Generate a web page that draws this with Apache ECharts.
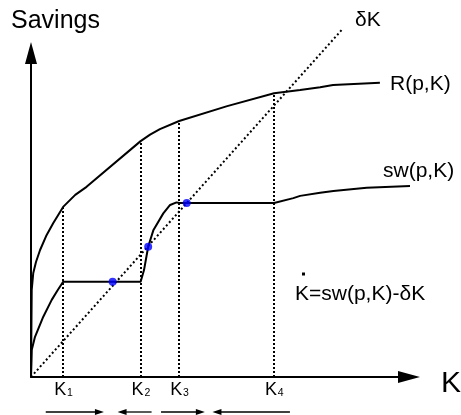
<!DOCTYPE html>
<html><head><meta charset="utf-8">
<script src="https://cdn.jsdelivr.net/npm/echarts@6/dist/echarts.min.js"></script>
<style>html,body{margin:0;padding:0;background:#fff}#c{width:461px;height:415px}</style>
</head><body><div id="c"></div>
<script>
// K equilibrium positions (x-axis) and subscripts
const kValues = [8.5, 29.0, 39.2, 64.3];
const kNames = ['1', '2', '3', '4'];
// R(p,K) curve
const rCurve = [[0,0],[0.08,11.4],[0.19,26.9],[0.6,32.1],[1.32,35.5],[2.4,39.2],[4,43.5],[5.9,47.5],[8.5,52.5],[11.7,56.2],[14.7,58.7],[29.0,72.8],[31.5,74.8],[34.1,76.5],[39.2,79.0],[51.9,83.6],[64.3,87.6],[71.2,88.6],[76.5,89.4],[79.9,90.1],[92.3,90.8]];
// sw(p,K) curve
const swCurve = [[0,0],[0.19,8.3],[1.06,12.4],[3.25,18.6],[5.48,23.8],[7.0,26.7],[8.5,29.4],[29.0,29.4],[29.9,33.0],[31.0,40.2],[32.4,45.4],[35.0,50.5],[36.8,53.1],[38.5,53.9],[39.2,53.7],[64.3,53.7],[69.4,55.2],[71.2,55.9],[76.5,56.9],[80.0,57.4],[88.8,58.4],[100.7,59.0]];
// depreciation line dK
const deltaLine = [[0,0],[82.5,107.5]];
// intersections (blue points)
const steadyStates = [[21.6,29.4],[31.0,40.2],[41.2,53.7]];
// direction arrows below axis [from, to]
const flowArrows = [[3.9,19.3],[31.9,22.9],[34.4,46.0],[68.5,48.0]];

const rAt = k => rCurve.find(p => p[0] === k)[1];
const FAMILY = '"Liberation Sans", Arial, sans-serif';
const chart = echarts.init(document.getElementById('c'), null, {renderer: 'canvas'});

function txtStyle(text, size) {
  return {text: text, fontSize: size, fontFamily: FAMILY, font: size + 'px ' + FAMILY, fill: '#000',
    textAlign: 'left', textVerticalAlign: 'middle', align: 'left', verticalAlign: 'middle'};
}
function txt(text, x, y, size) {
  return {type: 'text', x: x, y: y, silent: true, style: txtStyle(text, size)};
}

chart.setOption({
  animation: false,
  grid: {left: 31, right: 52, top: 53, bottom: 38},
  xAxis: {
    type: 'value', min: 0, max: 100,
    splitLine: {show: false}, axisTick: {show: false}, axisLabel: {show: false},
    axisLine: {lineStyle: {color: '#000', width: 2}, symbol: ['none', 'triangle'], symbolSize: [12, 22]}
  },
  yAxis: {
    type: 'value', min: 0, max: 100,
    splitLine: {show: false}, axisTick: {show: false}, axisLabel: {show: false},
    axisLine: {lineStyle: {color: '#000', width: 2}, symbol: ['none', 'triangle'], symbolSize: [12, 22]}
  },
  series: [
    {type: 'line', data: rCurve, showSymbol: false, clip: false, z: 3,
      lineStyle: {color: '#000', width: 2},
      markLine: {silent: true, symbol: 'none', label: {show: false},
        lineStyle: {color: '#000', width: 2, type: [2, 2]},
        data: kValues.map(k => [{coord: [k, 0]}, {coord: [k, rAt(k)]}])}},
    {type: 'line', data: swCurve, showSymbol: false, clip: false, z: 3,
      lineStyle: {color: '#000', width: 2}},
    {type: 'line', data: deltaLine, showSymbol: false, clip: false, z: 2,
      lineStyle: {color: '#000', width: 2, type: [2, 2.5]}},
    {type: 'scatter', data: steadyStates, symbolSize: 8, z: 4,
      itemStyle: {color: '#0000ff'}},
    {type: 'custom', data: flowArrows, clip: false,
      renderItem: function (params, api) {
        const a = api.coord([api.value(0), 0]);
        const b = api.coord([api.value(1), 0]);
        const y = a[1] + 35;
        const dir = b[0] > a[0] ? 1 : -1;
        const tip = b[0];
        return {type: 'group', children: [
          {type: 'line', shape: {x1: a[0], y1: y, x2: tip - dir * 7, y2: y}, style: {stroke: '#000', lineWidth: 1.3}},
          {type: 'polygon', shape: {points: [[tip, y], [tip - dir * 9, y - 3], [tip - dir * 9, y + 3]]}, style: {fill: '#000'}}
        ]};
      }},
    {type: 'custom', data: kValues.map(v => [v, 0]), clip: false,
      renderItem: function (params, api) {
        const p = api.coord([api.value(0), 0]);
        const x0 = p[0] - 9;
        return {type: 'group', children: [
          {type: 'text', x: x0, y: p[1] + 13, style: txtStyle('K', 18)},
          {type: 'text', x: x0 + 12.8, y: p[1] + 16, style: txtStyle(kNames[params.dataIndex], 10.5)}
        ]};
      }}
  ],
  graphic: [
    txt('Savings', 11, 21.5, 25),
    txt('δK', 355, 20, 21),
    txt('R(p,K)', 390, 84.5, 21),
    txt('sw(p,K)', 383, 171.5, 21),
    txt('K=sw(p,K)-δK', 295, 294.5, 21),
    {type: 'rect', shape: {x: 302, y: 272.5, width: 3, height: 3}, style: {fill: '#000'}, silent: true},
    txt('K', 441, 384, 30)
  ]
});
</script>
</body></html>
